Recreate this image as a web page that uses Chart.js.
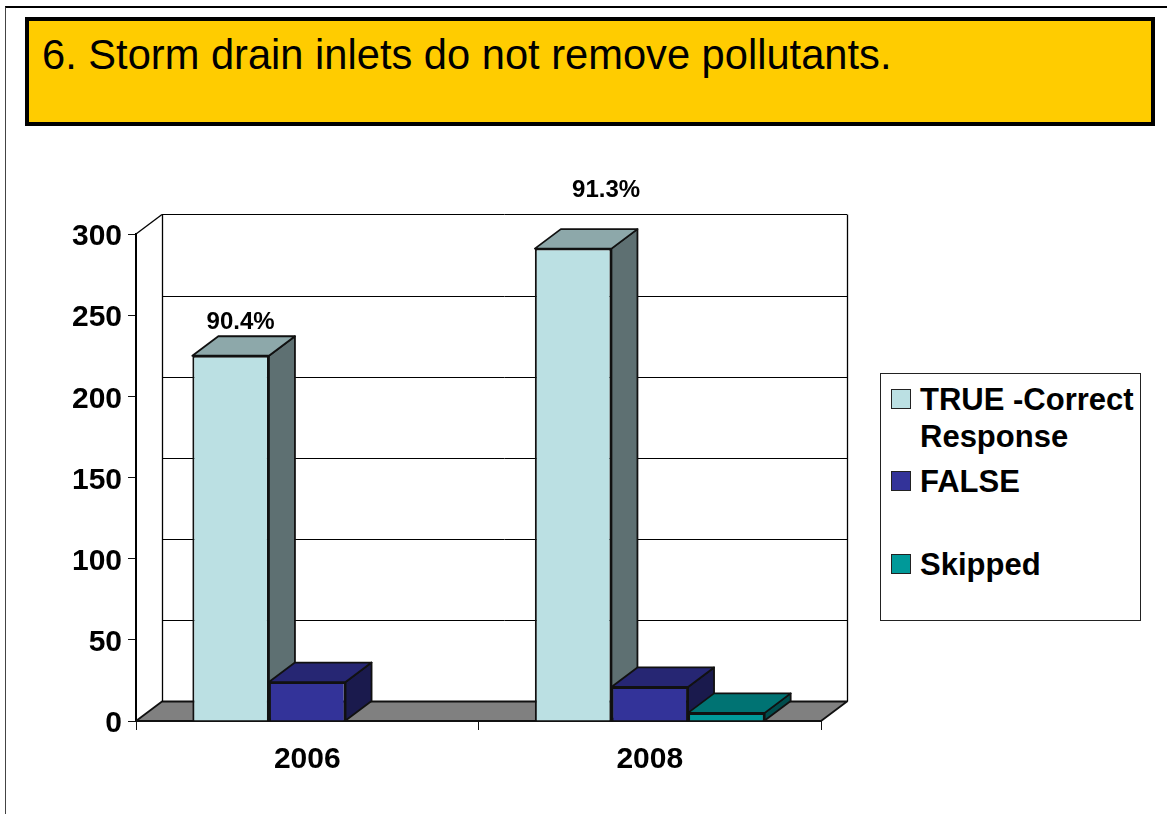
<!DOCTYPE html>
<html>
<head>
<meta charset="utf-8">
<script src="https://cdn.jsdelivr.net/npm/chart.js@4"></script>
<style>
html,body{margin:0;padding:0;background:#fff;width:1167px;height:814px;overflow:hidden;font-family:"Liberation Sans",Arial,sans-serif}
#frame{position:absolute;left:5px;top:6px;width:1162px;height:808px;border-top:2px solid #000;border-left:1.5px solid #444;box-sizing:border-box}
#title{position:absolute;left:25px;top:17px;width:1130px;height:109px;box-sizing:border-box;background:#FFCC00;border:4px solid #000;font-size:41.65px;line-height:48px;color:#000;padding:10px 0 0 13px;white-space:nowrap}
#wrap{position:absolute;left:0;top:0;width:1167px;height:814px}
#legend{position:absolute;left:880px;top:373px;width:261px;height:248px;box-sizing:border-box;border:1px solid #222;background:#fff;font-weight:bold;font-size:31px;color:#000}
.item{position:absolute;left:39px;line-height:37px;white-space:nowrap}
.swatch{position:absolute;left:10px;width:20px;height:20px;box-sizing:border-box;border:1.5px solid #222}
</style>
</head>
<body>
<div id="frame"></div>
<div id="title"></div>
<div id="wrap"><canvas id="c" width="1167" height="814"></canvas></div>
<div id="legend"></div>
<script>
const chartTitle = "6. Storm drain inlets do not remove pollutants.";
const categories = ["2006", "2008"];
const seriesNames = ["TRUE -Correct Response", "FALSE", "Skipped"];
const trueValues = [225, 291];
const falseValues = [24, 21];
const skippedValues = [0, 5];
const percentLabels = ["90.4%", "91.3%"];
const yTicks = [0, 50, 100, 150, 200, 250, 300];

const FONT = '"Liberation Sans", Arial, sans-serif';
const front = ["#BBE0E3", "#333399", "#009999"];
const topFace = ["#8DA8AA", "#262673", "#007373"];
const sideFace = ["#5E7072", "#1A1A4D", "#004D4D"];
const lineCol = "#111";
const DX = 26, DY = -19.5;
const labelShift = [{x: 10, y: -33}, {x: 33, y: -58}];

function poly(ctx, pts, fill, stroke) {
  ctx.beginPath();
  pts.forEach((p, i) => i ? ctx.lineTo(p[0], p[1]) : ctx.moveTo(p[0], p[1]));
  ctx.closePath();
  if (fill) { ctx.fillStyle = fill; ctx.fill(); }
  if (stroke) { ctx.strokeStyle = stroke; ctx.lineWidth = 1.8; ctx.lineJoin = "round"; ctx.stroke(); }
}
function seg(ctx, x1, y1, x2, y2) {
  ctx.beginPath(); ctx.moveTo(x1, y1); ctx.lineTo(x2, y2); ctx.stroke();
}

const depthPlugin = {
  id: "depth",
  beforeDatasetsDraw(chart) {
    const ctx = chart.ctx, y = chart.scales.y, a = chart.chartArea;
    const base = y.getPixelForValue(0), topV = y.getPixelForValue(yTicks[yTicks.length - 1]);
    ctx.save();
    // floor
    poly(ctx, [[a.left, base], [a.left + DX, base + DY], [a.right + DX, base + DY], [a.right, base]], "#808080", lineCol);
    // back wall and gridlines
    ctx.strokeStyle = "#000"; ctx.lineWidth = 1;
    yTicks.forEach(v => {
      if (v === 0) return;
      const py = Math.round(y.getPixelForValue(v) + DY - 0.1) + 0.5;
      seg(ctx, a.left + DX, py, a.right + DX, py);
    });
    ctx.lineWidth = 1.3;
    seg(ctx, a.left + DX + 0.5, topV + DY, a.left + DX + 0.5, base + DY);
    seg(ctx, a.right + DX + 0.5, topV + DY, a.right + DX + 0.5, base + DY);
    seg(ctx, a.left, topV, a.left + DX, topV + DY);
    // bar depth faces
    chart.data.datasets.forEach((ds, d) => {
      chart.getDatasetMeta(d).data.forEach((bar, i) => {
        if (!ds.data[i]) return;
        const l = bar.x - bar.width / 2, r = bar.x + bar.width / 2, t = bar.y, b = bar.base;
        poly(ctx, [[r, t], [r + DX, t + DY], [r + DX, b + DY], [r, b]], sideFace[d], lineCol);
        poly(ctx, [[l, t], [l + DX, t + DY], [r + DX, t + DY], [r, t]], topFace[d], lineCol);
      });
    });
    ctx.restore();
  },
  afterDatasetsDraw(chart) {
    const ctx = chart.ctx;
    ctx.save();
    ctx.font = "bold 24px " + FONT;
    ctx.fillStyle = "#000";
    ctx.textAlign = "center";
    ctx.textBaseline = "middle";
    chart.getDatasetMeta(0).data.forEach((bar, i) => {
      ctx.fillText(percentLabels[i], bar.x + labelShift[i].x, bar.y + labelShift[i].y);
    });
    ctx.restore();
  }
};

document.getElementById("title").textContent = chartTitle;

const chart = new Chart(document.getElementById("c"), {
  type: "bar",
  data: {
    labels: categories,
    datasets: [trueValues, falseValues, skippedValues].map((values, d) => ({
      label: seriesNames[d],
      data: values,
      backgroundColor: front[d],
      borderColor: lineCol,
      borderWidth: 2,
      barPercentage: 1,
      categoryPercentage: 0.671
    }))
  },
  options: {
    responsive: false,
    animation: false,
    layout: {padding: {left: 0, top: 234, right: 346, bottom: 0}},
    plugins: {legend: {display: false}, title: {display: false}, tooltip: {enabled: false}},
    scales: {
      x: {
        afterFit: s => { s.height = 93; },
        grid: {drawOnChartArea: false, color: lineCol, tickLength: 9, offset: true},
        border: {color: "#000", width: 2},
        ticks: {color: "#000", font: {family: FONT, size: 30, weight: "bold"}, padding: 12, maxRotation: 0}
      },
      y: {
        min: 0, max: 300,
        afterFit: s => { s.width = 136; },
        afterBuildTicks: s => { s.ticks = yTicks.map(v => ({value: v})); },
        grid: {drawOnChartArea: false, color: lineCol, tickLength: 8},
        border: {color: "#000", width: 2},
        ticks: {color: "#000", font: {family: FONT, size: 30, weight: "bold"}, padding: 6, labelOffset: 3}
      }
    }
  },
  plugins: [depthPlugin]
});

// legend, built from the series names
const legendEl = document.getElementById("legend");
const legendLines = [["TRUE -Correct", "Response"], ["FALSE"], ["Skipped"]];
const legendTops = [7, 89, 172];
legendLines.forEach((lines, d) => {
  const sw = document.createElement("div");
  sw.className = "swatch";
  sw.style.top = (legendTops[d] + 8) + "px";
  sw.style.background = front[d];
  legendEl.appendChild(sw);
  const it = document.createElement("div");
  it.className = "item";
  it.style.top = legendTops[d] + "px";
  it.innerHTML = lines.join("<br>");
  legendEl.appendChild(it);
});
</script>
</body>
</html>
